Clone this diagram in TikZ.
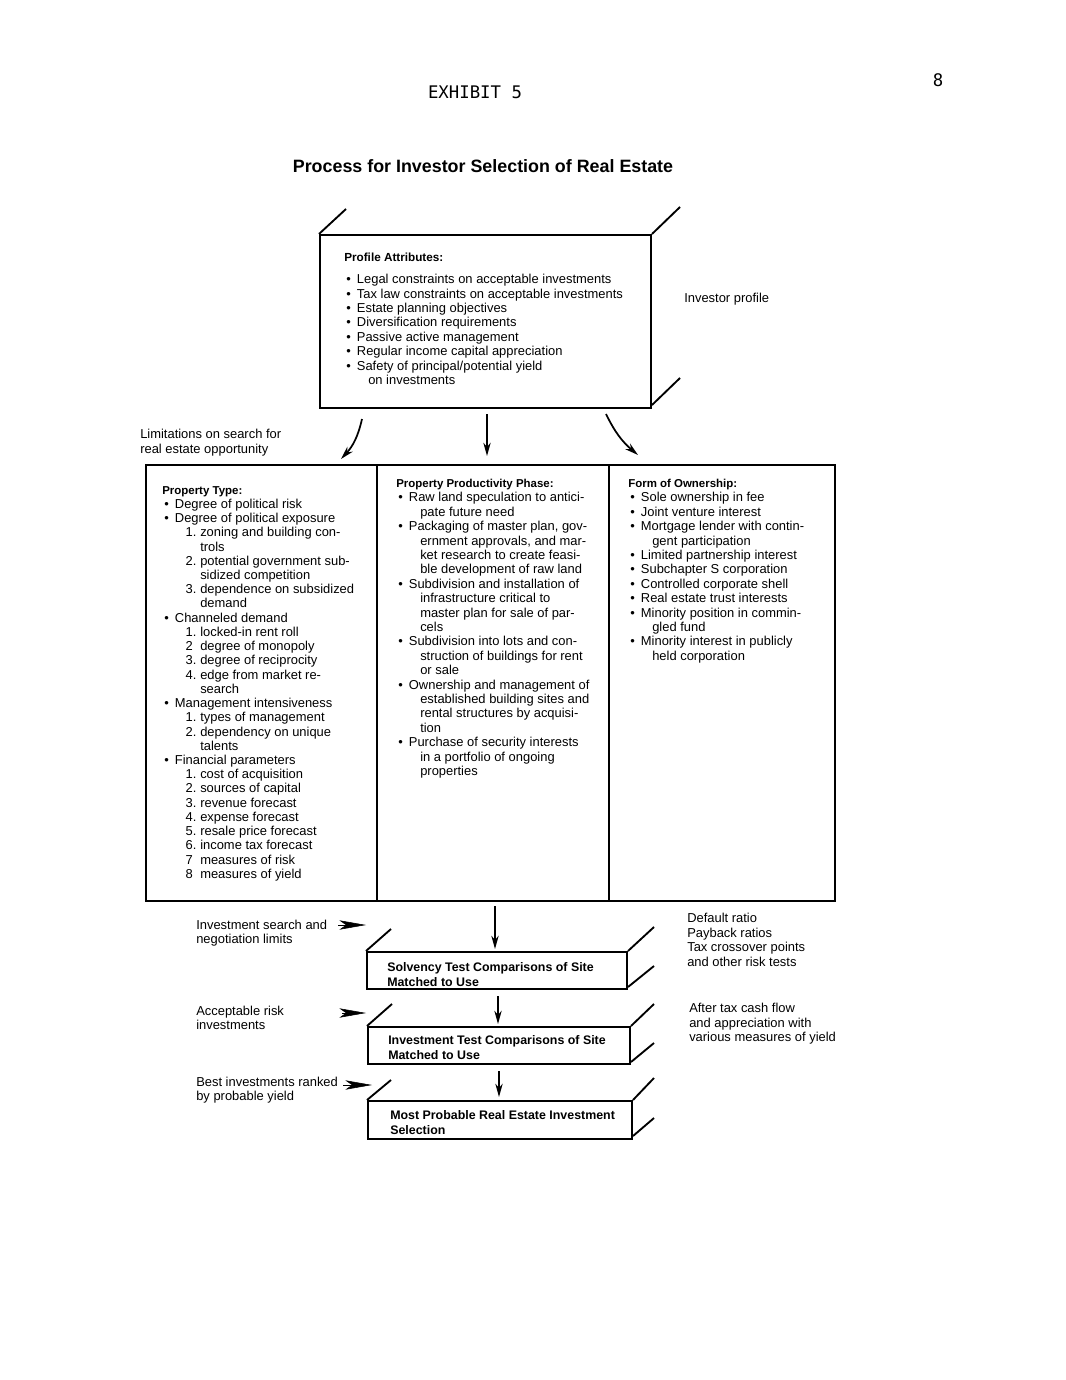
\documentclass[tikz,border=0pt]{standalone}
\usepackage{fontspec}
\setmainfont{Liberation Sans}
\newfontfamily\typewfont{DejaVu Sans Mono}
\usetikzlibrary{arrows.meta,calc,fit}

% list helpers
\newcommand{\bul}{\hspace*{1.5pt}\makebox[8pt][l]{\textbullet}}
\newcommand{\cnt}{\hspace*{18pt}}
\newcommand{\numi}[1]{\hspace*{17.5pt}\makebox[11pt][l]{#1}}
\newcommand{\numc}{\hspace*{28.5pt}}

\tikzset{
  panel/.style={draw, line width=1.5pt, inner sep=0pt},
  depth/.style={line width=1.4pt},
  flow/.style={line width=1.3pt, -{Stealth[length=10pt,width=5.5pt]}},
  feather/.style={-{Stealth[length=20pt,width=7pt,inset=5pt]}},
  txt/.style={anchor=north west, inner sep=0pt, align=left, font=\fontsize{9.7}{10.8}\selectfont},
  boxtxt/.style={anchor=north west, inner sep=0pt, align=left, font=\bfseries\fontsize{9.3}{11.25}\selectfont},
}
\newcommand{\hdr}[1]{{\bfseries\fontsize{8.6}{10.8}\selectfont #1}}

\begin{document}
\begin{tikzpicture}[x=0.75pt,y=0.75pt,yscale=-1,xscale=1]
\useasboundingbox (0,0) rectangle (1065,1380);

% Text Node
\draw (475,92) node [font=\typewfont\fontsize{13}{13}\selectfont] (exhibit) {EXHIBIT 5};
% Text Node
\draw (938,80) node [font=\typewfont\fontsize{13}{13}\selectfont] (pageno) {8};
% Text Node
\draw (483,166) node [font=\bfseries\fontsize{13.4}{16}\selectfont] (title) {Process for Investor Selection of Real Estate};

%Shape: Box [id:profile]
\node [panel, fit={(320,235) (651,408)}] (profile) {};
\draw [depth] (profile.north west) -- ++(27,-25) ;
\draw [depth] (profile.north east) -- ++(28,-27) ;
\draw [depth] ($(profile.south east)+(0,-4)$) -- ++(28,-27) ;
% Text Node
\draw (344,253) node [txt] (profileText) {{\bfseries\fontsize{8.8}{10.8}\selectfont Profile Attributes:}\\[5.7pt]
\bul Legal constraints on acceptable investments\\
\bul Tax law constraints on acceptable investments\\
\bul Estate planning objectives\\
\bul Diversification requirements\\
\bul Passive active management\\
\bul Regular income capital appreciation\\
\bul Safety of principal/potential yield\\
\cnt on investments};
% Text Node
\draw (684,293) node [txt] (profileLbl) {Investor profile};
% Text Node
\draw (140,429) node [txt] (limitLbl) {Limitations on search for\\real estate opportunity};

%Shape: Columns
\node [panel, fit={(146,465) (377,901)}] (colType) {};
\node [panel, fit={(377,465) (609,901)}] (colPhase) {};
\node [panel, fit={(609,465) (835,901)}] (colOwn) {};

% Arrows from profile
\draw [flow] ($(profile.south west)+(43,10)$) to[bend right=15] ($(colType.north west)+(196,-5)$) ;
\draw [flow] ($(profile.south)+(1.5,5)$) -- ($(profile.south |- colPhase.north)+(1.5,-8)$) ;
\draw [flow] ($(profile.south east)+(-46,5)$) to[bend left=12] ($(colOwn.north west)+(30,-9)$) ;

% Text Node
\draw (162,486) node [txt, font=\fontsize{9.7}{10.67}\selectfont] (typeText) {\hdr{Property Type:}\\
\bul Degree of political risk\\
\bul Degree of political exposure\\
\numi{1.}zoning and building con-\\
\numc trols\\
\numi{2.}potential government sub-\\
\numc sidized competition\\
\numi{3.}dependence on subsidized\\
\numc demand\\
\bul Channeled demand\\
\numi{1.}locked-in rent roll\\
\numi{2}degree of monopoly\\
\numi{3.}degree of reciprocity\\
\numi{4.}edge from market re-\\
\numc search\\
\bul Management intensiveness\\
\numi{1.}types of management\\
\numi{2.}dependency on unique\\
\numc talents\\
\bul Financial parameters\\
\numi{1.}cost of acquisition\\
\numi{2.}sources of capital\\
\numi{3.}revenue forecast\\
\numi{4.}expense forecast\\
\numi{5.}resale price forecast\\
\numi{6.}income tax forecast\\
\numi{7}measures of risk\\
\numi{8}measures of yield};
% Text Node
\draw (396,479) node [txt] (phaseText) {\hdr{Property Productivity Phase:}\\
\bul Raw land speculation to antici-\\
\cnt pate future need\\
\bul Packaging of master plan, gov-\\
\cnt ernment approvals, and mar-\\
\cnt ket research to create feasi-\\
\cnt ble development of raw land\\
\bul Subdivision and installation of\\
\cnt infrastructure critical to\\
\cnt master plan for sale of par-\\
\cnt cels\\
\bul Subdivision into lots and con-\\
\cnt struction of buildings for rent\\
\cnt or sale\\
\bul Ownership and management of\\
\cnt established building sites and\\
\cnt rental structures by acquisi-\\
\cnt tion\\
\bul Purchase of security interests\\
\cnt in a portfolio of ongoing\\
\cnt properties};
% Text Node
\draw (628,479) node [txt] (ownText) {\hdr{Form of Ownership:}\\
\bul Sole ownership in fee\\
\bul Joint venture interest\\
\bul Mortgage lender with contin-\\
\cnt gent participation\\
\bul Limited partnership interest\\
\bul Subchapter S corporation\\
\bul Controlled corporate shell\\
\bul Real estate trust interests\\
\bul Minority position in commin-\\
\cnt gled fund\\
\bul Minority interest in publicly\\
\cnt held corporation};

%Shape: Box [id:solvency]
\node [panel, fit={(367,952) (627,989)}] (solvency) {};
\draw [depth] (solvency.north west) -- ++(25,-22) ;
\draw [depth] (solvency.north east) -- ++(26,-24) ;
\draw [depth] ($(solvency.south east)+(0,-3)$) -- ++(26,-21) ;
%Shape: Box [id:invest]
\node [panel, fit={(368,1027) (630,1064)}] (invest) {};
\draw [depth] (invest.north west) -- ++(25,-22) ;
\draw [depth] (invest.north east) -- ++(23,-22) ;
\draw [depth] ($(invest.south east)+(0,-3)$) -- ++(23,-19) ;
%Shape: Box [id:select]
\node [panel, fit={(368,1101) (632,1139)}] (select) {};
\draw [depth] (select.north west) -- ++(24,-20) ;
\draw [depth] (select.north east) -- ++(21,-22) ;
\draw [depth] ($(select.south east)+(0,-4)$) -- ++(21,-18) ;

% Arrows down
\draw [flow] ($(colPhase.south)+(2,4)$) -- ($(colPhase.south |- solvency.north)+(2,-2)$) ;
\draw [flow] ($(solvency.south)+(1,6)$) -- ($(solvency.south |- invest.north)+(1,-2)$) ;
\draw [flow] ($(invest.south)+(0,6)$) -- ($(invest.south |- select.north)+(0,-3)$) ;

% Text Node
\draw (387,962) node [boxtxt] (solvencyText) {Solvency Test Comparisons of Site\\Matched to Use};
% Text Node
\draw (388,1035) node [boxtxt] (investText) {Investment Test Comparisons of Site\\Matched to Use};
% Text Node
\draw (390,1110) node [boxtxt] (selectText) {Most Probable Real Estate Investment\\Selection};

% Text Node
\draw (196,920) node [txt, font=\fontsize{9.7}{10.5}\selectfont] (searchLbl) {Investment search and\\negotiation limits};
\coordinate (searchTip) at (366,925);
\draw [feather] ($(searchTip)+(-28,0)$) -- (searchTip) ;
% Text Node
\draw (196,1006) node [txt, font=\fontsize{9.7}{10.5}\selectfont] (riskLbl) {Acceptable risk\\investments};
\coordinate (riskTip) at (366,1013);
\draw [feather] ($(riskTip)+(-24,0)$) -- (riskTip) ;
% Text Node
\draw (196,1077) node [txt, font=\fontsize{9.7}{10.5}\selectfont] (bestLbl) {Best investments ranked\\by probable yield};
\coordinate (bestTip) at (372,1085);
\draw [feather] ($(bestTip)+(-29,0)$) -- (bestTip) ;

% Text Node
\draw (687,913) node [txt, font=\fontsize{9.7}{10.9}\selectfont] (solvencyNote) {Default ratio\\Payback ratios\\Tax crossover points\\and other risk tests};
% Text Node
\draw (689,1003) node [txt, font=\fontsize{9.7}{10.9}\selectfont] (investNote) {After tax cash flow\\and appreciation with\\various measures of yield};

\end{tikzpicture}
\end{document}
